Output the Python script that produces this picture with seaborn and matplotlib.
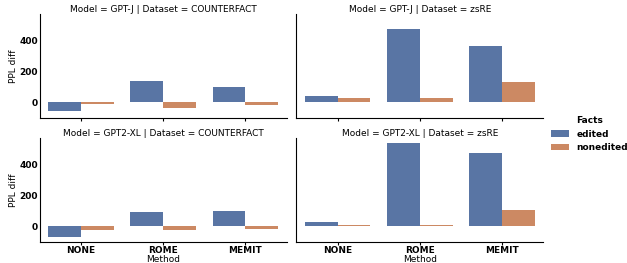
import pandas as pd
import matplotlib.pyplot as plt
import seaborn as sns

models = ['GPT-J', 'GPT2-XL']
datasets = ['COUNTERFACT', 'zsRE']
methods = ['NONE', 'ROME', 'MEMIT']
facts = ['edited', 'nonedited']

# PPL diff, one list per panel and fact type, ordered like methods
gptj_cf_edited = [-55, 136, 102]
gptj_cf_nonedited = [-13, -38, -19]
gptj_zsre_edited = [43, 476, 362]
gptj_zsre_nonedited = [26, 26, 132]
gpt2xl_cf_edited = [-70, 94, 100]
gpt2xl_cf_nonedited = [-25, -25, -15]
gpt2xl_zsre_edited = [30, 540, 476]
gpt2xl_zsre_nonedited = [11, 11, 106]

panels = {
    ('GPT-J', 'COUNTERFACT'): (gptj_cf_edited, gptj_cf_nonedited),
    ('GPT-J', 'zsRE'): (gptj_zsre_edited, gptj_zsre_nonedited),
    ('GPT2-XL', 'COUNTERFACT'): (gpt2xl_cf_edited, gpt2xl_cf_nonedited),
    ('GPT2-XL', 'zsRE'): (gpt2xl_zsre_edited, gpt2xl_zsre_nonedited),
}

rows = []
for (model, dataset), series in panels.items():
    for fact, values in zip(facts, series):
        for method, v in zip(methods, values):
            rows.append({'Model': model, 'Dataset': dataset, 'Method': method,
                         'Facts': fact, 'PPL diff': v})
df = pd.DataFrame(rows)

plt.rcParams['font.size'] = 6.5

g = sns.catplot(data=df, x='Method', y='PPL diff', hue='Facts', row='Model', col='Dataset',
                kind='bar', errorbar=None, palette='deep', order=methods, hue_order=facts,
                row_order=models, col_order=datasets, height=1.3, aspect=2.3)

g.fig.set_size_inches(6.27, 2.63)
g.fig.subplots_adjust(left=40/627, right=543/627, top=1-14/263, bottom=1-242/263,
                      wspace=0.04, hspace=0.192)

for ax in g.axes.flat:
    ax.set_yticks([0, 200, 400])
    ax.tick_params(axis='y', length=0, pad=1.5)
    ax.tick_params(axis='x', length=2, pad=1)
    plt.setp(ax.get_yticklabels(), fontweight='bold', fontsize=6.5)
    plt.setp(ax.get_xticklabels(), fontweight='bold', fontsize=6.5)
    ax.set_title(ax.get_title(), fontsize=6.5, pad=1.5)
    ax.xaxis.label.set_fontsize(6.5)
    ax.yaxis.label.set_fontsize(6.5)
    ax.xaxis.labelpad = 0
    ax.yaxis.labelpad = 1

sns.move_legend(g, 'center left', bbox_to_anchor=(543/627, 0.49), frameon=False)
leg = g._legend
leg.get_title().set_fontweight('bold')
leg.get_title().set_fontsize(6.5)
for t in leg.get_texts():
    t.set_fontweight('bold')
    t.set_fontsize(6.5)

g.fig.savefig('out.png', dpi=100)
